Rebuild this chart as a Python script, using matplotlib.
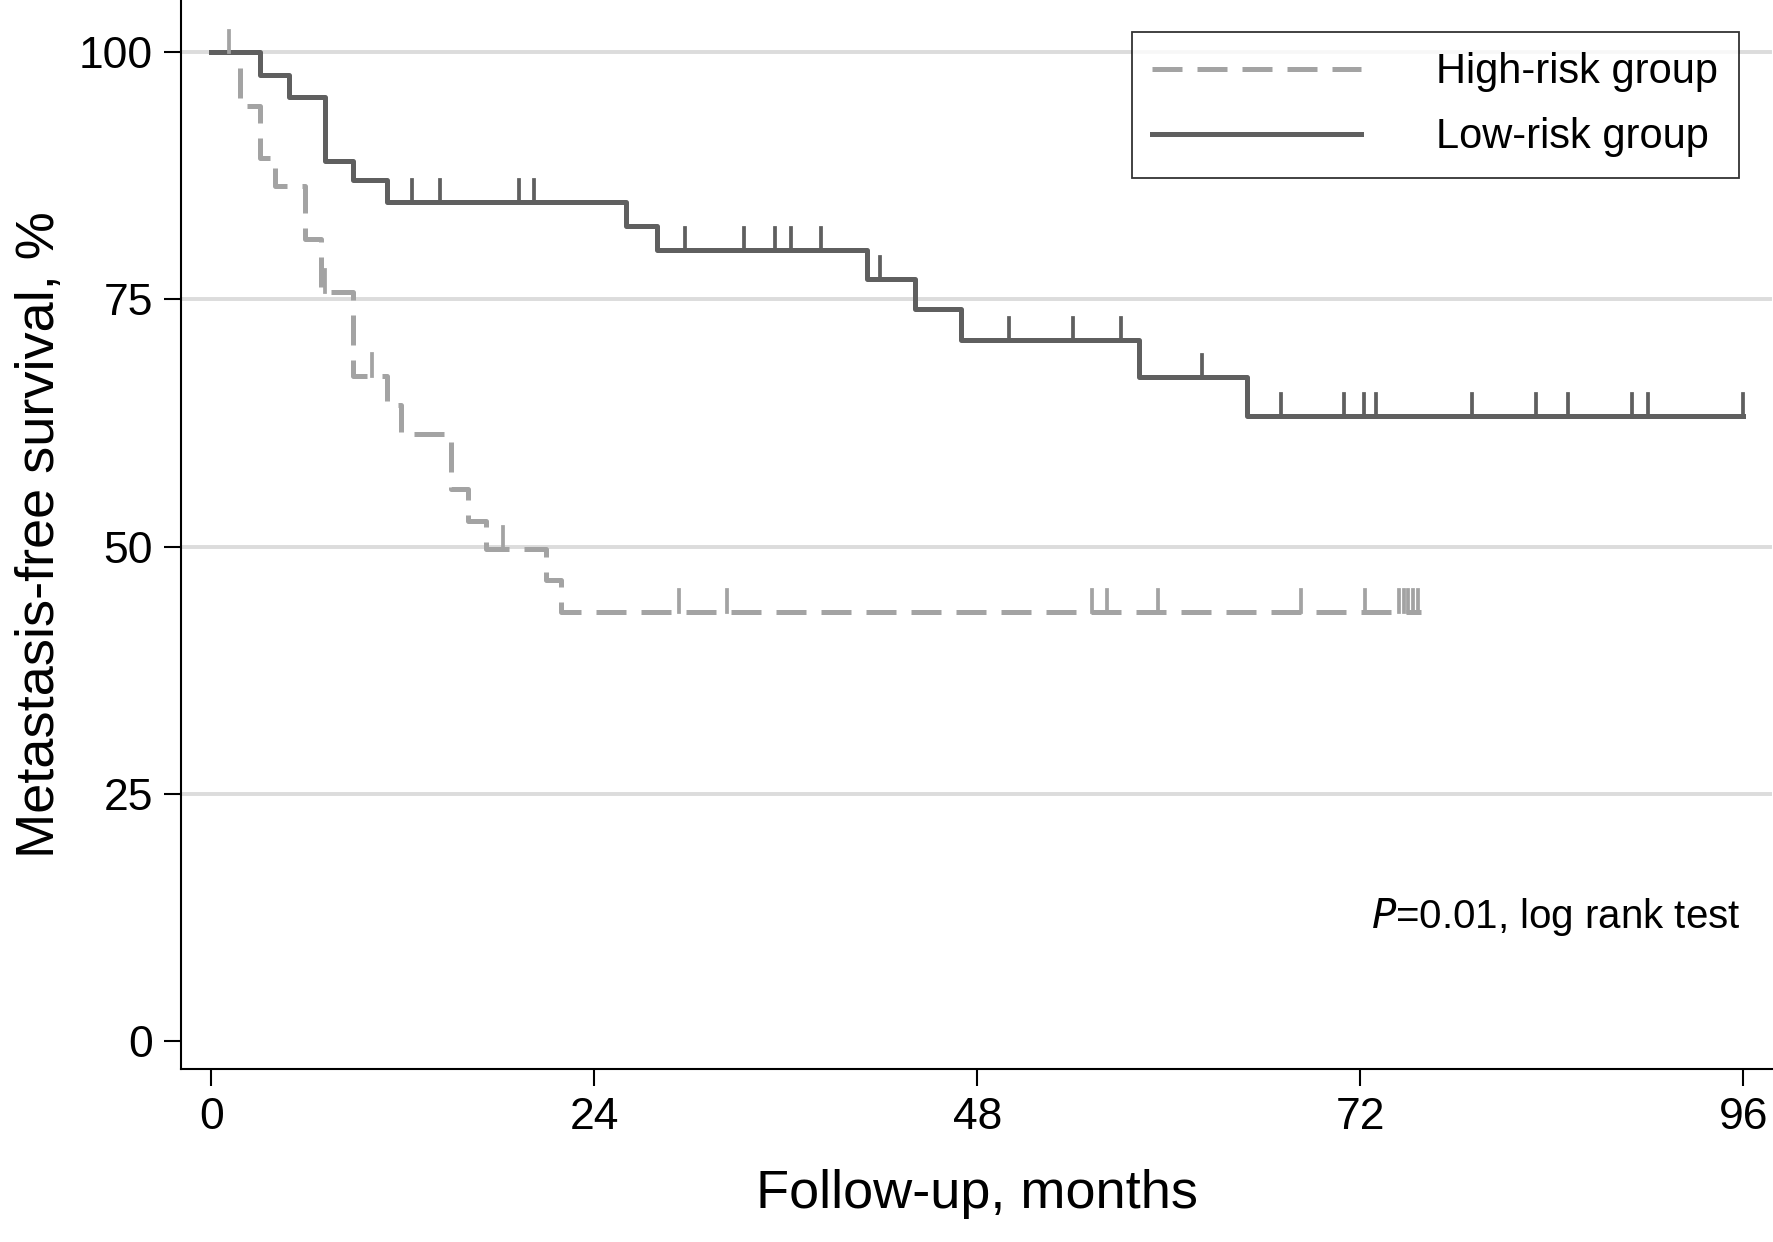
import matplotlib
matplotlib.use("Agg")
import matplotlib.pyplot as plt

plt.rcParams['font.family'] = ['Liberation Sans', 'DejaVu Sans']

# Low-risk group: step times and survival after each step
low_t = [0, 3.05, 4.9, 7.1, 8.9, 11.0, 26.0, 27.9, 41.1, 44.1, 47.0, 58.1, 64.9, 96.0]
low_s = [100, 97.7, 95.5, 89.0, 87.1, 84.9, 82.4, 80.0, 77.1, 74.0, 70.9, 67.2, 63.2, 63.2]
low_cens_t = [12.6, 14.3, 19.3, 20.2, 29.7, 33.4, 35.3, 36.3, 38.2, 41.9, 50.0, 54.0, 57.0,
              62.1, 67.0, 71.0, 72.2, 73.0, 79.0, 83.0, 85.0, 89.0, 90.0, 96.0]

# High-risk group
high_t = [0, 1.8, 3.05, 4.0, 5.9, 6.9, 8.9, 11.0, 11.9, 15.0, 16.1, 17.2, 21.0, 21.9, 75.8]
high_s = [100, 94.6, 89.3, 86.5, 81.1, 75.8, 67.3, 64.3, 61.4, 55.8, 52.6, 49.8, 46.6, 43.4, 43.4]
high_cens_t = [1.1, 7.1, 10.1, 18.3, 29.3, 32.3, 55.2, 56.1, 59.3, 68.3, 72.3,
               74.4, 74.7, 75.0, 75.3, 75.6]

def surv_at(ts, ss, t):
    v = ss[0]
    for ti, si in zip(ts, ss):
        if ti <= t:
            v = si
    return v

fig = plt.figure(figsize=(17.74, 12.42), dpi=100)
ax = fig.add_axes([0.102, 0.139, 0.897, 0.861])

for y in [25, 50, 75, 100]:
    ax.axhline(y, color='#dcdcdc', lw=2.8, zorder=0)

hc, lc = '#a3a3a3', '#5f5f5f'
ax.step(high_t, high_s, where='post', color=hc, lw=3.6, ls=(0, (6, 3)), label='High-risk group')
ax.step(low_t, low_s, where='post', color=lc, lw=3.6, label='Low-risk group')
tick_h = 2.2
for t in high_cens_t:
    s = surv_at(high_t, high_s, t)
    ax.plot([t, t], [s, s + tick_h], color=hc, lw=2.7)
for t in low_cens_t:
    s = surv_at(low_t, low_s, t)
    ax.plot([t, t], [s, s + tick_h], color=lc, lw=2.7)

ax.set_xlim(-1.9, 97.8)
ax.set_ylim(-2.9, 105.3)
ax.set_xticks([0, 24, 48, 72, 96])
ax.set_yticks([0, 25, 50, 75, 100])
ax.tick_params(labelsize=32, length=12, width=1.5, direction='out', pad=8)
for s in ['top', 'right']:
    ax.spines[s].set_visible(False)
for s in ['left', 'bottom']:
    ax.spines[s].set_linewidth(1.5)
ax.set_xlabel('Follow-up, months', fontsize=39, labelpad=22)
ax.set_ylabel('Metastasis-free survival, %', fontsize=39, labelpad=10)

leg = ax.legend(loc='upper right', bbox_to_anchor=(0.992, 0.99), fontsize=30, frameon=True,
                fancybox=False, edgecolor='black', handlelength=5, borderpad=0.5,
                labelspacing=0.6, handletextpad=1.8)
leg.get_frame().set_linewidth(1.3)

ax.text(95.8, 12.5, r'$\it{P}$=0.01, log rank test', fontsize=29, ha='right', va='center')

fig.savefig('out.png', dpi=100)
